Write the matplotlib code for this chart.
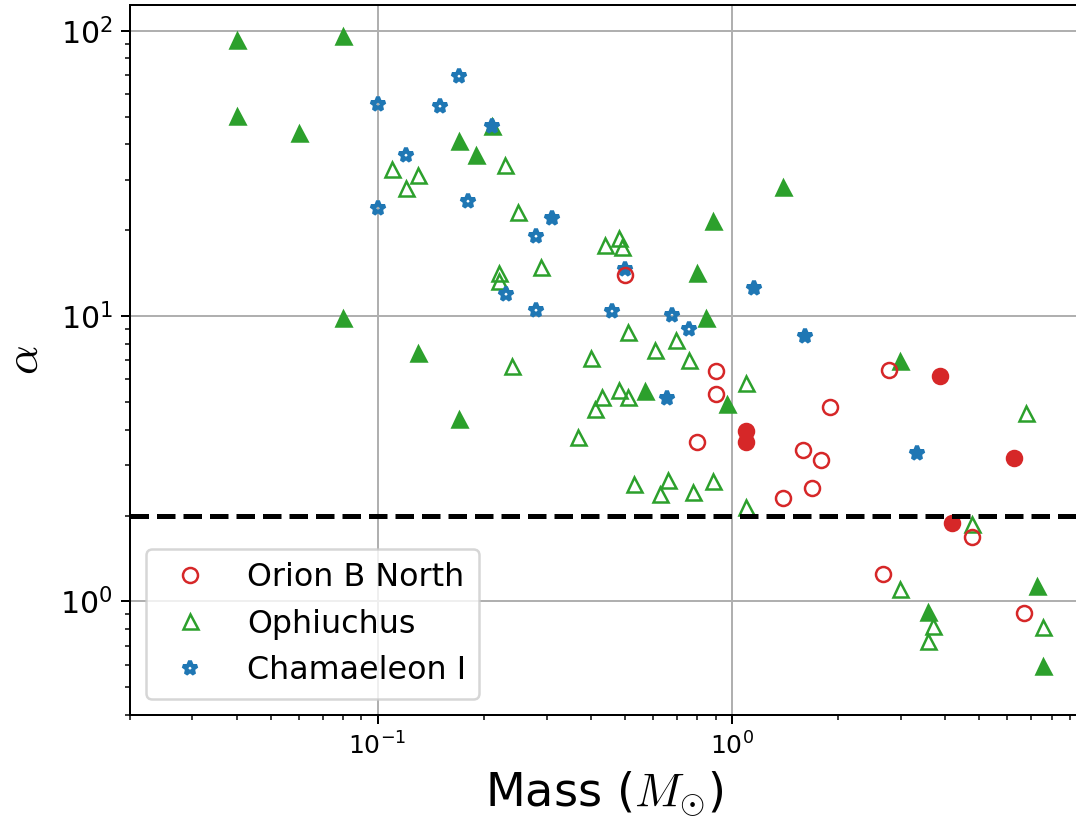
import matplotlib
matplotlib.use("Agg")
import matplotlib.pyplot as plt

plt.rcParams['mathtext.fontset'] = 'cm'

# Orion B North
orion_open_mass = [0.50, 0.90, 0.90, 0.80, 2.78, 1.89, 1.59, 1.79, 1.69, 1.40, 4.76, 2.68, 6.67]
orion_open_alpha = [13.9, 6.40, 5.35, 3.62, 6.49, 4.81, 3.38, 3.13, 2.50, 2.30, 1.68, 1.25, 0.91]
orion_fill_mass = [1.095, 1.095, 3.88, 6.27, 4.18]
orion_fill_alpha = [3.94, 3.62, 6.15, 3.17, 1.88]

# Ophiuchus
oph_open_mass = [0.110, 0.120, 0.130, 0.2295, 0.250, 0.289, 0.439, 0.479, 0.489, 0.220, 0.220,
                 0.240, 0.400, 0.509, 0.609, 0.698, 0.758, 1.095, 0.429, 0.479, 0.509, 0.410,
                 0.369, 0.529, 0.627, 0.659, 0.777, 0.885, 1.095, 6.77, 4.76, 2.99, 3.69,
                 3.585, 7.56]
oph_open_alpha = [32.8, 28.0, 31.3, 33.7, 23.2, 14.9, 17.8, 18.7, 17.5, 14.1, 13.3,
                  6.70, 7.15, 8.82, 7.61, 8.27, 7.02, 5.81, 5.21, 5.51, 5.19, 4.73,
                  3.78, 2.58, 2.38, 2.66, 2.41, 2.64, 2.14, 4.57, 1.87, 1.105, 0.817,
                  0.728, 0.815]
oph_fill_mass = [0.040, 0.080, 0.040, 0.060, 0.170, 0.190, 0.888, 1.396, 0.796, 0.080,
                 0.130, 0.170, 0.848, 0.569, 0.968, 2.99, 3.585, 7.26, 7.56, 0.210]
oph_fill_alpha = [93.1, 95.6, 50.1, 43.7, 41.2, 36.8, 21.6, 28.3, 14.1, 9.85,
                  7.42, 4.37, 9.85, 5.46, 4.92, 6.98, 0.918, 1.135, 0.594, 46.2]

# Chamaeleon I
cha_open_mass = [0.100, 0.100, 0.170, 0.150, 0.120, 0.180, 0.280, 0.230, 0.280, 0.458, 0.677, 0.758]
cha_open_alpha = [55.5, 23.9, 69.2, 54.6, 36.8, 25.4, 19.0, 11.9, 10.5, 10.4, 10.06, 9.03]
cha_fill_mass = [0.210, 0.310, 0.4985, 1.156, 1.611, 3.346, 0.658]
cha_fill_alpha = [46.2, 22.1, 14.6, 12.5, 8.54, 3.31, 5.16]

threshold = 2.0

red = '#d62728'
green = '#2ca02c'
blue = '#1f77b4'

fig = plt.figure(figsize=(1076 / 180, 823 / 180), dpi=180)
ax = fig.add_axes([130 / 1076, 108 / 823, 948 / 1076, 710 / 823])

ax.set_xscale('log')
ax.set_yscale('log')

ax.plot(oph_open_mass, oph_open_alpha, ls='none', marker='^', mfc='none', mec=green,
        ms=6, mew=1.0, label='Ophiuchus')
ax.plot(oph_fill_mass, oph_fill_alpha, ls='none', marker='^', color=green, ms=6)
ax.plot(cha_open_mass, cha_open_alpha, ls='none', marker='*', mfc='none', mec=blue,
        ms=6, mew=1.6, label='Chamaeleon I')
ax.plot(cha_fill_mass, cha_fill_alpha, ls='none', marker='*', color=blue, ms=6, mew=1.6)
ax.plot(orion_open_mass, orion_open_alpha, ls='none', marker='o', mfc='none', mec=red,
        ms=6, mew=1.0, label='Orion B North')
ax.plot(orion_fill_mass, orion_fill_alpha, ls='none', marker='o', color=red, ms=6)

ax.axhline(threshold, color='k', ls='--', lw=2)

ax.set_xlim(0.02, 9.5)
ax.set_ylim(0.4, 123)
ax.grid(True, which='major')

ax.set_xlabel(r'Mass ($M_{\odot}$)', fontsize=18.5)
ax.set_ylabel(r'$\alpha$', fontsize=18.5, labelpad=5)
ax.tick_params(axis='x', labelsize=10)
ax.tick_params(axis='y', labelsize=12)

handles, labels = ax.get_legend_handles_labels()
order = [2, 0, 1]
ax.legend([handles[i] for i in order], [labels[i] for i in order],
          loc='lower left', fontsize=12.7)

fig.savefig('out.png', dpi=180)
